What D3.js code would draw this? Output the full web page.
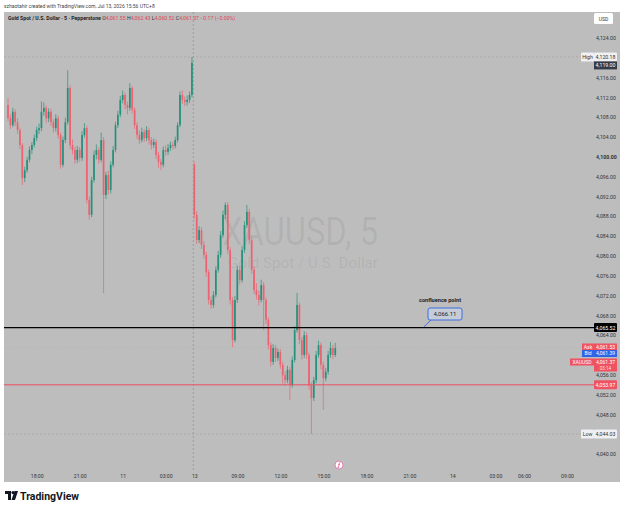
<!DOCTYPE html>
<html>
<head>
<meta charset="utf-8">
<script src="https://cdn.jsdelivr.net/npm/d3@7"></script>
<style>
  body { margin: 0; background: #fff; }
  text { font-family: Roboto, "Liberation Sans", Arial, sans-serif; }
</style>
</head>
<body>
<div id="chart"></div>
<script>
// XAUUSD 5 - candles aggregated, Friday session then Monday session

const closes = [
  4107.8, 4106.4, 4109.1, 4107.0, 4105.4, 4102.4, 4095.7, 4097.3, 4099.4, 4101.4,
  4102.4, 4103.8, 4105.4, 4105.8, 4109.1, 4109.9, 4107.8, 4109.1, 4107.0, 4105.8,
  4107.8, 4104.4, 4098.4, 4103.4, 4107.0, 4113.9, 4102.4, 4101.4, 4099.4, 4101.4,
  4099.8, 4104.4, 4105.8, 4091.3, 4088.3, 4095.3, 4100.4, 4101.4, 4099.4, 4103.4,
  4092.3, 4096.3, 4093.3, 4098.4, 4101.4, 4106.4, 4108.5, 4111.5, 4112.5, 4110.5,
  4109.9, 4113.9, 4109.5, 4106.4, 4104.4, 4103.4, 4105.0, 4103.8, 4105.4, 4103.4,
  4102.4, 4103.0, 4100.4, 4099.0, 4098.4, 4101.4, 4101.0, 4101.8, 4102.4, 4102.2,
  4103.4, 4106.4, 4112.5, 4111.5, 4111.1, 4111.5, 4112.5, 4119.0,
  4088.3, 4083.2, 4085.2, 4082.2, 4080.2, 4076.7, 4071.1, 4070.1, 4072.1, 4077.2,
  4080.2, 4084.2, 4088.3, 4090.3, 4081.2, 4071.1, 4063.0, 4071.1, 4077.2, 4075.1,
  4081.2, 4086.2, 4088.9, 4083.2, 4077.2, 4073.1, 4072.1, 4071.1, 4074.1, 4071.1,
  4067.1, 4062.0, 4058.6, 4061.4, 4059.4, 4060.6, 4058.0, 4055.9, 4054.9, 4057.0,
  4053.9, 4059.0, 4065.0, 4070.1, 4063.0, 4060.0, 4064.0, 4060.0, 4053.9, 4051.3,
  4054.9, 4060.0, 4062.0, 4058.0, 4055.3, 4056.6, 4060.0, 4061.4, 4060.0, 4061.37
];

const highs = [
  4111.9, 4108.6, 4109.9, 4109.6, 4107.8, 4105.9, 4102.8, 4098.0, 4100.0, 4102.1,
  4103.0, 4104.5, 4106.1, 4106.7, 4111.2, 4111.0, 4110.4, 4109.8, 4109.7, 4107.6,
  4108.6, 4108.3, 4104.9, 4104.1, 4107.9, 4117.5, 4114.4, 4103.5, 4102.0, 4102.2,
  4102.0, 4105.2, 4106.8, 4106.3, 4092.0, 4096.0, 4101.3, 4102.5, 4102.0, 4104.9,
  4104.0, 4097.0, 4097.2, 4099.1, 4102.2, 4107.1, 4109.3, 4112.3, 4113.4, 4113.0,
  4111.2, 4114.9, 4114.3, 4110.0, 4107.0, 4105.3, 4105.9, 4105.6, 4106.2, 4105.9,
  4104.0, 4103.7, 4103.5, 4101.0, 4099.6, 4102.1, 4102.3, 4102.6, 4103.1, 4103.0,
  4104.1, 4107.0, 4113.2, 4113.4, 4112.2, 4112.4, 4113.2, 4120.18,
  4099.0, 4089.0, 4086.0, 4085.8, 4083.0, 4080.8, 4077.3, 4071.8, 4072.9, 4077.9,
  4081.0, 4085.0, 4089.2, 4090.8, 4090.9, 4081.8, 4071.7, 4071.9, 4078.0, 4078.0,
  4082.0, 4087.0, 4090.3, 4089.5, 4083.8, 4077.9, 4074.5, 4073.0, 4075.2, 4074.7,
  4071.6, 4067.6, 4062.5, 4062.2, 4062.0, 4061.3, 4061.2, 4058.6, 4056.7, 4057.8,
  4057.6, 4059.7, 4065.8, 4072.5, 4070.6, 4063.6, 4064.8, 4064.6, 4060.5, 4054.5,
  4055.6, 4060.8, 4062.9, 4062.5, 4058.6, 4057.4, 4060.8, 4062.6, 4062.0, 4062.43
];

const lows = [
  4107.2, 4105.6, 4106.0, 4106.2, 4104.6, 4101.6, 4094.3, 4094.9, 4096.8, 4098.9,
  4100.6, 4101.9, 4103.2, 4104.6, 4105.2, 4108.3, 4106.9, 4107.0, 4106.2, 4104.9,
  4105.1, 4103.7, 4097.6, 4097.9, 4102.8, 4106.5, 4101.6, 4100.5, 4098.6, 4098.8,
  4099.0, 4099.2, 4103.9, 4090.6, 4087.3, 4087.8, 4094.8, 4099.5, 4098.6, 4098.9,
  4072.5, 4091.5, 4092.4, 4092.6, 4097.9, 4100.9, 4105.8, 4108.0, 4110.8, 4109.6,
  4108.6, 4109.3, 4108.8, 4105.6, 4103.6, 4102.6, 4102.9, 4103.0, 4103.2, 4102.5,
  4101.5, 4101.8, 4099.6, 4097.8, 4097.3, 4097.9, 4100.2, 4100.4, 4101.2, 4101.5,
  4101.7, 4102.9, 4106.0, 4110.7, 4110.3, 4110.4, 4110.9, 4112.0,
  4087.5, 4082.4, 4082.6, 4081.4, 4079.4, 4075.8, 4070.2, 4069.3, 4069.5, 4071.6,
  4076.6, 4079.6, 4083.7, 4087.5, 4080.4, 4070.2, 4061.6, 4062.5, 4070.5, 4074.2,
  4074.6, 4080.6, 4085.6, 4082.4, 4076.4, 4072.3, 4071.2, 4070.0, 4070.6, 4065.0,
  4066.2, 4061.1, 4057.7, 4058.0, 4058.6, 4058.8, 4057.2, 4054.2, 4053.8, 4054.3,
  4050.9, 4053.4, 4058.5, 4064.5, 4062.2, 4059.1, 4059.4, 4059.2, 4053.0, 4044.03,
  4050.7, 4054.3, 4059.4, 4057.1, 4048.9, 4054.7, 4056.0, 4059.4, 4059.2, 4059.6
];

// first open of each session (gap after the weekend)
const sessionOpens = { 0: 4110.5, 78: 4098.4 };

const timeTickIdx = [12, 30, 48, 66, 78, 96, 114, 132, 150, 168, 186, 204, 216, 234];
const timeTickLabels = ["18:00", "21:00", "11", "03:00", "13", "09:00", "12:00", "15:00",
                        "18:00", "21:00", "14", "03:00", "06:00", "09:00"];

const priceTicks = [4124, 4116, 4112, 4108, 4104, 4100, 4096, 4092, 4088, 4084, 4080,
                    4076, 4072, 4068, 4064, 4056, 4052, 4048, 4040];

const dayHigh = 4120.18, dayLow = 4044.03, prevClose = 4119.00;
const lastPrice = 4061.37, askPrice = 4061.53, bidPrice = 4061.39;
const blackLevel = 4065.52, redLevel = 4053.97, notePrice = 4066.11;

const width = 625, height = 510;
const upColor = "#25917a", downColor = "#ec6270";

const svg = d3.select("#chart").append("svg")
  .attr("width", width).attr("height", height);

svg.append("rect").attr("width", width).attr("height", height).attr("fill", "#fff");

// chart panel
svg.append("rect")
  .attr("x", 4).attr("y", 12).attr("width", 616).attr("height", 470)
  .attr("fill", "#bdbdbd");

const x = d3.scaleLinear().domain([0, 234]).range([8, 567]);
const y = d3.scaleLinear().domain([4040, 4124]).range([454, 38]);

const candles = closes.map((c, i) => ({
  i: i,
  o: sessionOpens[i] !== undefined ? sessionOpens[i] : closes[i - 1],
  h: highs[i],
  l: lows[i],
  c: c
}));

// watermark
svg.append("text")
  .attr("x", 222).attr("y", 245)
  .attr("textLength", 156).attr("lengthAdjust", "spacingAndGlyphs")
  .attr("font-size", 38).attr("fill", "#000").attr("fill-opacity", 0.07)
  .text("XAUUSD, 5");
svg.append("text")
  .attr("x", 228).attr("y", 268)
  .attr("textLength", 150).attr("lengthAdjust", "spacingAndGlyphs")
  .attr("font-size", 14).attr("fill", "#000").attr("fill-opacity", 0.07)
  .text("Gold Spot / U.S. Dollar");

// session break
svg.append("line")
  .attr("x1", x(78) - 1).attr("x2", x(78) - 1).attr("y1", 12).attr("y2", 470)
  .attr("stroke", "#888").attr("stroke-width", 0.6).attr("stroke-dasharray", "2,2");

// faint reference lines
svg.append("line")
  .attr("x1", 4).attr("x2", 594).attr("y1", y(dayHigh)).attr("y2", y(dayHigh))
  .attr("stroke", "#999").attr("stroke-width", 0.5).attr("stroke-dasharray", "2,2");
svg.append("line")
  .attr("x1", 4).attr("x2", 594).attr("y1", y(dayLow)).attr("y2", y(dayLow))
  .attr("stroke", "#999").attr("stroke-width", 0.5).attr("stroke-dasharray", "2,2");
svg.append("line")
  .attr("x1", 4).attr("x2", 594).attr("y1", y(askPrice)).attr("y2", y(askPrice))
  .attr("stroke", "#aaa").attr("stroke-width", 0.5).attr("stroke-dasharray", "1,2");

// candles
const cg = svg.append("g");
cg.selectAll("line.wick").data(candles).join("line")
  .attr("class", "wick")
  .attr("x1", d => x(d.i)).attr("x2", d => x(d.i))
  .attr("y1", d => y(d.h)).attr("y2", d => y(d.l))
  .attr("stroke", d => d.c >= d.o ? upColor : downColor)
  .attr("stroke-width", 0.7);
cg.selectAll("rect.body").data(candles).join("rect")
  .attr("class", "body")
  .attr("x", d => x(d.i) - 0.85)
  .attr("width", 1.7)
  .attr("y", d => y(Math.max(d.o, d.c)))
  .attr("height", d => Math.max(0.6, Math.abs(y(d.o) - y(d.c))))
  .attr("fill", d => d.c >= d.o ? upColor : downColor);

// horizontal levels
svg.append("line")
  .attr("x1", 4).attr("x2", 596).attr("y1", y(blackLevel)).attr("y2", y(blackLevel))
  .attr("stroke", "#000").attr("stroke-width", 1.3);
svg.append("line")
  .attr("x1", 4).attr("x2", 596).attr("y1", y(redLevel)).attr("y2", y(redLevel))
  .attr("stroke", "#ea4f5f").attr("stroke-width", 1);

// confluence note
const nx = 445, ny = 314;
svg.append("line")
  .attr("x1", 431).attr("y1", ny + 6).attr("x2", 424).attr("y2", y(notePrice) + 2)
  .attr("stroke", "#3f6fe0").attr("stroke-width", 1);
svg.append("rect")
  .attr("x", nx - 17).attr("y", ny - 6).attr("width", 34).attr("height", 12).attr("rx", 2)
  .attr("fill", "#c6ccd8").attr("stroke", "#3f6fe0").attr("stroke-width", 1);
svg.append("text")
  .attr("x", nx).attr("y", ny + 2).attr("text-anchor", "middle")
  .attr("font-size", 6).attr("fill", "#222")
  .text(d3.format(",.2f")(notePrice));
svg.append("text")
  .attr("x", 440).attr("y", 302).attr("text-anchor", "middle")
  .attr("font-size", 5.6).attr("font-weight", "bold").attr("fill", "#222")
  .text("confluence point");

// price axis
const yAxis = svg.append("g")
  .attr("transform", "translate(596,0)")
  .call(d3.axisRight(y).tickValues(priceTicks).tickSize(0).tickPadding(0)
    .tickFormat(d3.format(",.2f")));
yAxis.select(".domain").remove();
yAxis.selectAll("text")
  .attr("font-size", 5.2).attr("fill", "#333").attr("text-anchor", "start")
  .attr("font-weight", d => d === 4100 ? "bold" : null);

// time axis
const xAxis = svg.append("g")
  .attr("transform", "translate(0,472)")
  .call(d3.axisBottom(x).tickValues(timeTickIdx).tickSize(0).tickPadding(2)
    .tickFormat((d, i) => timeTickLabels[i]));
xAxis.select(".domain").remove();
xAxis.selectAll("text").attr("font-size", 5.2).attr("fill", "#333");

// price tags on the right scale
function tag(x0, w, v, fill, txt, col, h) {
  h = h || 9;
  const cy = y(v);
  svg.append("rect").attr("x", x0).attr("y", cy - 4.5).attr("width", w).attr("height", h)
    .attr("fill", fill).attr("rx", 1);
  svg.append("text").attr("x", x0 + w / 2).attr("y", cy + 2)
    .attr("text-anchor", "middle").attr("font-size", 5.2).attr("fill", col).text(txt);
}
const fmt = d3.format(",.2f");
tag(581, 13, dayHigh, "#eef0f4", "High", "#333");
tag(594, 23, dayHigh, "#eef0f4", fmt(dayHigh), "#333");
svg.append("rect").attr("x", 594).attr("y", y(dayHigh) + 4.5).attr("width", 23).attr("height", 8)
  .attr("fill", "#363a45");
svg.append("text").attr("x", 605.5).attr("y", y(dayHigh) + 10.3).attr("text-anchor", "middle")
  .attr("font-size", 5.2).attr("fill", "#fff").text(fmt(prevClose));
tag(594, 23, blackLevel, "#000", fmt(blackLevel), "#fff");

// ask / bid / last stack (pushed apart as on the reference)
const stackY = [347, 353.5, 362];
function stackTag(x0, w, cy, fill, txt, col) {
  svg.append("rect").attr("x", x0).attr("y", cy - 3.5).attr("width", w).attr("height", 7)
    .attr("fill", fill);
  svg.append("text").attr("x", x0 + w / 2).attr("y", cy + 1.8)
    .attr("text-anchor", "middle").attr("font-size", 5).attr("fill", col).text(txt);
}
stackTag(582, 12, stackY[0], "#ef5361", "Ask", "#fff");
stackTag(594, 23, stackY[0], "#ef5361", fmt(askPrice), "#fff");
stackTag(582, 12, stackY[1], "#2f63e8", "Bid", "#fff");
stackTag(594, 23, stackY[1], "#2f63e8", fmt(bidPrice), "#fff");
stackTag(570, 24, stackY[2], "#ef5361", "XAUUSD", "#fff");
svg.append("rect").attr("x", 594).attr("y", stackY[2] - 3.5).attr("width", 23).attr("height", 13)
  .attr("fill", "#ef5361");
svg.append("text").attr("x", 605.5).attr("y", stackY[2] + 1.8).attr("text-anchor", "middle")
  .attr("font-size", 5).attr("fill", "#fff").text(fmt(lastPrice));
svg.append("text").attr("x", 605.5).attr("y", stackY[2] + 7.6).attr("text-anchor", "middle")
  .attr("font-size", 4.6).attr("fill", "#fff").attr("fill-opacity", 0.8).text("03:14");
tag(594, 23, redLevel, "#ef5361", fmt(redLevel), "#fff");
tag(581, 13, dayLow, "#eef0f4", "Low", "#333");
tag(594, 23, dayLow, "#eef0f4", fmt(dayLow), "#333");

// USD box
svg.append("rect").attr("x", 594).attr("y", 13).attr("width", 19).attr("height", 11)
  .attr("fill", "#fff").attr("rx", 1.5);
svg.append("text").attr("x", 603.5).attr("y", 20.5).attr("text-anchor", "middle")
  .attr("font-size", 5).attr("fill", "#333").text("USD");

// dividend-style marker under the candles
svg.append("circle").attr("cx", 339).attr("cy", 465).attr("r", 4)
  .attr("fill", "#fff").attr("stroke", "#e06aa8").attr("stroke-width", 0.8);
svg.append("text").attr("x", 339).attr("y", 467.3).attr("text-anchor", "middle")
  .attr("font-size", 6).attr("font-style", "italic").attr("fill", "#c2186b").text("ƒ");

// headers
svg.append("text").attr("x", 4).attr("y", 7.5)
  .attr("font-size", 5).attr("fill", "#444")
  .text("xzhaotahir created with TradingView.com, Jul 13, 2026 15:56 UTC+8");
const hdr = svg.append("text").attr("x", 8).attr("y", 19.5).attr("font-size", 5.2);
hdr.append("tspan").attr("fill", "#222").attr("font-weight", "bold")
  .text("Gold Spot / U.S. Dollar · 5 · Pepperstone  ");
const ohlc = [["O", "4,061.55"], ["H", "4,062.43"], ["L", "4,060.52"], ["C", "4,061.37"]];
ohlc.forEach(p => {
  hdr.append("tspan").attr("fill", "#333").text(p[0]);
  hdr.append("tspan").attr("fill", "#e04455").text(p[1] + " ");
});
hdr.append("tspan").attr("fill", "#e04455").text("−0.17 (−0.00%)");

// TradingView logo
const logo = svg.append("g").attr("transform", "translate(5,491)");
logo.append("path").attr("d", "M0,0 H6 V9 H3 V3 H0 Z").attr("fill", "#131722");
logo.append("circle").attr("cx", 8).attr("cy", 1.6).attr("r", 1.6).attr("fill", "#131722");
logo.append("path").attr("d", "M9.5,0 H13 L10,9 H6.5 Z").attr("fill", "#131722");
svg.append("text").attr("x", 20).attr("y", 500)
  .attr("font-size", 10.5).attr("font-weight", "bold").attr("fill", "#131722")
  .text("TradingView");
</script>
</body>
</html>
